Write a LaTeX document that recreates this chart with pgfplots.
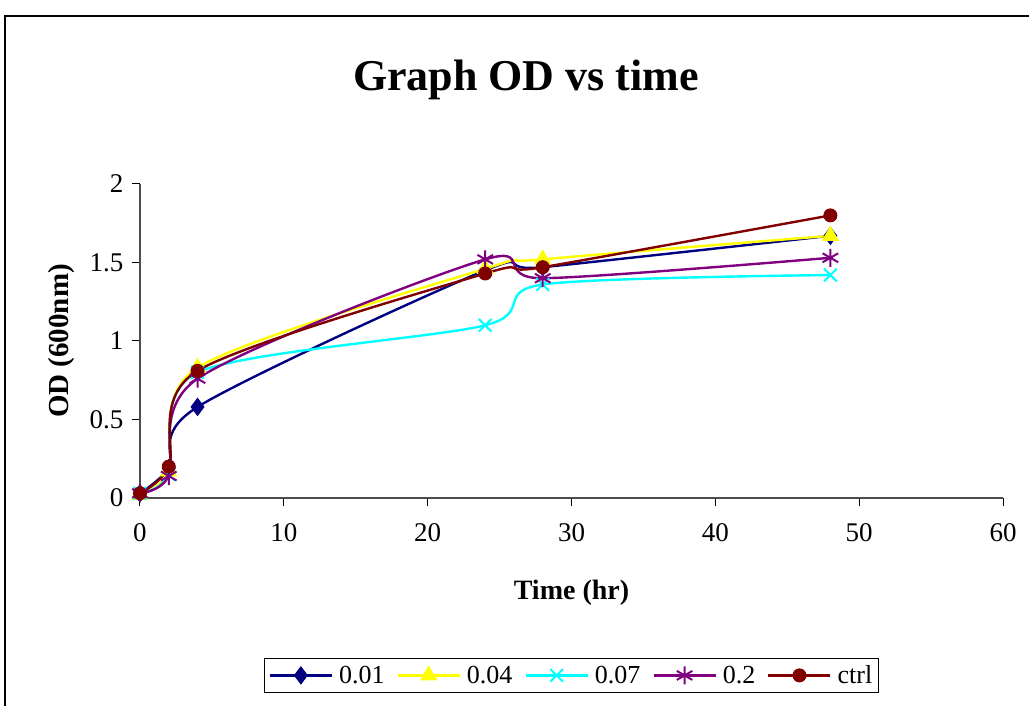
\documentclass[border=0pt]{standalone}
\usepackage{pgfplots}
\pgfplotsset{compat=1.18}
\usepackage{fontspec}
\setmainfont{Liberation Serif}
\definecolor{cNavy}{RGB}{0,0,128}
\definecolor{cYellow}{RGB}{255,255,0}
\definecolor{cCyan}{RGB}{0,255,255}
\definecolor{cPurple}{RGB}{128,0,128}
\definecolor{cMaroon}{RGB}{128,0,0}
\begin{document}
\begin{tikzpicture}[x=1pt,y=1pt]
\useasboundingbox (0,0) rectangle (1029,706);
\draw[line width=1.5pt] (1045,690) -- (5,690) -- (5,-20);
\node[font=\bfseries\fontsize{44}{44}\selectfont] at (526,626) {Graph OD vs time};
\begin{axis}[
  at={(140pt,208pt)}, anchor=south west,
  scale only axis, width=863pt, height=314pt,
  xmin=0, xmax=60, ymin=0, ymax=2,
  xtick={0,10,20,30,40,50,60}, ytick={0,0.5,1,1.5,2},
  axis x line=bottom, axis y line=left,
  axis line style={-, line width=1.2pt, gray!60!black},
  tick align=outside, major tick length=8pt,
  tick style={line width=1pt, black},
  /pgf/number format/assume math mode=true,
  yticklabel style={/pgf/number format/fixed, xshift=-5pt},
  xticklabel style={yshift=-14pt},
  ticklabel style={font=\fontsize{27}{27}\selectfont},
  xlabel={\textbf{Time (hr)}},
  ylabel={\textbf{OD (600nm)}},
  xlabel style={font=\fontsize{28}{28}\selectfont, at={(axis description cs:0.5,-0.303)}, anchor=center},
  ylabel style={font=\fontsize{29}{29}\selectfont, at={(axis description cs:-0.0904,0.5)}, anchor=center},
  clip=false,
  every axis plot/.append style={line width=2.4pt, smooth, tension=0.5},
  legend columns=5,
  legend style={at={(0.5,-0.565)}, anchor=center, draw=black, line width=0.8pt,
    font=\fontsize{26}{26}\selectfont, inner xsep=4pt, inner ysep=5pt,
    /tikz/every odd column/.append style={column sep=4pt},
    /tikz/every even column/.append style={column sep=10pt}},
  legend image code/.code={\draw[mark repeat=2,mark phase=2,#1] plot coordinates {(0pt,0pt) (31pt,0pt) (62pt,0pt)};},
]
\addplot[color=cNavy, mark=diamond*, mark size=8.5pt, mark options={fill=cNavy, draw=cNavy, line width=1pt}]
  coordinates {(0,0.03) (2,0.19) (4,0.58) (24,1.45) (28,1.47) (48,1.67)};
\addlegendentry{0.01}
\addplot[color=cYellow, mark=triangle*, mark size=9pt, mark options={fill=cYellow, draw=cYellow, line width=1pt}]
  coordinates {(0,0.02) (2,0.17) (4,0.83) (24,1.46) (28,1.52) (48,1.67)};
\addlegendentry{0.04}
\addplot[color=cCyan, mark=x, mark size=9pt, mark options={draw=cCyan, line width=2pt}]
  coordinates {(0,0.03) (2,0.15) (4,0.80) (24,1.10) (28,1.36) (48,1.42)};
\addlegendentry{0.07}
\addplot[color=cPurple, mark=asterisk, mark size=9pt, mark options={draw=cPurple, line width=2pt}]
  coordinates {(0,0.03) (2,0.14) (4,0.76) (24,1.52) (28,1.40) (48,1.53)};
\addlegendentry{0.2}
\addplot[color=cMaroon, mark=*, mark size=6.5pt, mark options={fill=cMaroon, draw=cMaroon, line width=1pt}]
  coordinates {(0,0.03) (2,0.20) (4,0.81) (24,1.43) (28,1.47) (48,1.80)};
\addlegendentry{ctrl}
\end{axis}
\end{tikzpicture}
\end{document}
